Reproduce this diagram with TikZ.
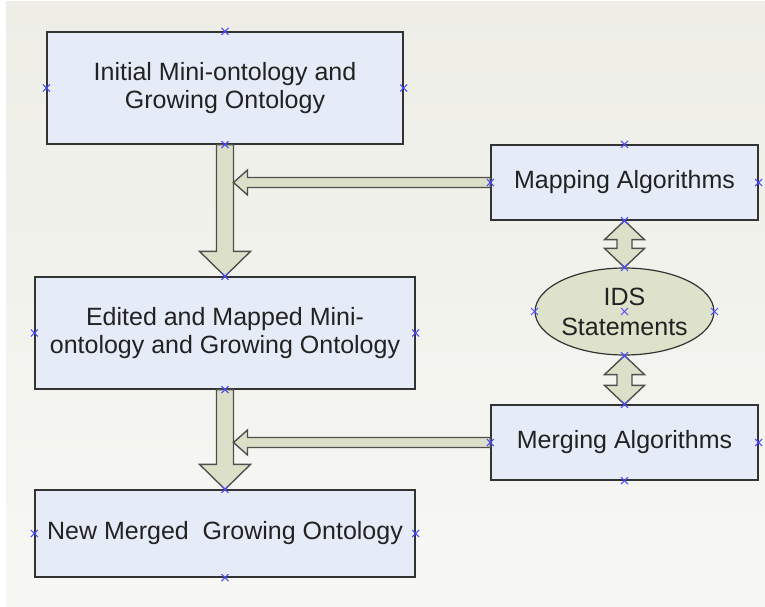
\documentclass[tikz,border=0pt]{standalone}
\usepackage{fontspec}
\setmainfont{Liberation Sans}
\usetikzlibrary{shapes.geometric,calc}
\definecolor{bgtop}{HTML}{EEEEE7}
\definecolor{bgbot}{HTML}{F7F7F4}
\definecolor{boxfill}{HTML}{E6ECF7}
\definecolor{boxline}{HTML}{333333}
\definecolor{arrfill}{HTML}{DCE0C8}
\definecolor{arrline}{HTML}{4F4F4F}
\definecolor{ellfill}{HTML}{DFE2CA}
\definecolor{mkcol}{HTML}{4A4AFF}
\definecolor{txtcol}{HTML}{222222}
\begin{document}
\begin{tikzpicture}[x=1pt,y=-1pt,
  box/.style={draw=boxline,line width=1.3pt,fill=boxfill,inner sep=0pt,align=center,
    text=txtcol,font=\fontsize{25}{28}\selectfont},
  ell/.style={ellipse,draw=boxline,line width=1.2pt,fill=ellfill,inner sep=0pt,align=center,
    text=txtcol,font=\fontsize{25}{30}\selectfont,minimum width=177pt,minimum height=87pt},
  blockarrow/.style={draw=arrline,line width=1.4pt,fill=arrfill,line join=miter},
  mk/.style={draw=mkcol,line width=1pt}]
\useasboundingbox (0,0) rectangle (765,607);
\shade[top color=bgtop,bottom color=bgbot] (6,2) rectangle (765,607);

\node[box,minimum width=356pt,minimum height=112pt] (b1) at (225,88) {Initial Mini-ontology and\\Growing Ontology};
\node[box,minimum width=380pt,minimum height=112pt] (b2) at (225,333) {Edited and Mapped Mini-\\ontology and Growing Ontology};
\node[box,minimum width=380pt,minimum height=87pt] (b3) at (225,533.5) {New Merged\ \ Growing Ontology};
\node[box,minimum width=267pt,minimum height=75pt] (map) at (624.5,182.5) {Mapping Algorithms};
\node[box,minimum width=267pt,minimum height=75pt] (mer) at (624.5,442.5) {Merging Algorithms};
\node[ell] (ids) at (624.5,311.5) {IDS\\Statements};

% vertical block arrows
\foreach \a/\b in {b1/b2,b2/b3}{
  \draw[blockarrow] let \p1=(\a.south), \p2=(\b.north) in
    ({\x1-8.5pt},\y1) -- ({\x1-8.5pt},{\y2+25pt}) -- ({\x1-25.5pt},{\y2+25pt}) -- (\x1,\y2)
    -- ({\x1+25.5pt},{\y2+25pt}) -- ({\x1+8.5pt},{\y2+25pt}) -- ({\x1+8.5pt},\y1) -- cycle;
}
% horizontal block arrows
\coordinate (t1) at ($(b1.south |- map.west)+(8.5,0)$);
\coordinate (t2) at ($(b2.south |- mer.west)+(8.5,0)$);
\foreach \a/\b in {map/t1,mer/t2}{
  \draw[blockarrow] let \p1=(\a.west), \p2=(\b) in
    (\x1,{\y1+5pt}) -- ({\x2+14pt},{\y1+5pt}) -- ({\x2+14pt},{\y1+12.5pt}) -- (\x2,\y1)
    -- ({\x2+14pt},{\y1-12.5pt}) -- ({\x2+14pt},{\y1-5pt}) -- (\x1,{\y1-5pt}) -- cycle;
}
% double block arrows
\foreach \a/\b in {map.south/ids.north,ids.south/mer.north}{
  \draw[blockarrow] let \p1=(\a), \p2=(\b) in
    (\x1,\y1) -- ({\x1+20pt},{\y1-19pt}) -- ({\x1+7.5pt},{\y1-19pt}) -- ({\x1+7.5pt},{\y2+19pt})
    -- ({\x1+20pt},{\y2+19pt}) -- (\x1,\y2) -- ({\x1-20pt},{\y2+19pt}) -- ({\x1-7.5pt},{\y2+19pt})
    -- ({\x1-7.5pt},{\y1-19pt}) -- ({\x1-20pt},{\y1-19pt}) -- cycle;
}

% connection markers
\foreach \p in {b1.north,b1.south,b1.west,b1.east,
                b2.north,b2.south,b2.west,b2.east,
                b3.north,b3.south,b3.west,b3.east,
                map.north,map.south,map.west,map.east,
                mer.north,mer.south,mer.west,mer.east,
                ids.north,ids.south,ids.west,ids.east,ids.center}{
  \draw[mk] (\p) +(-3.5,-3.5) -- +(3.5,3.5) +(-3.5,3.5) -- +(3.5,-3.5);
}
\end{tikzpicture}
\end{document}
